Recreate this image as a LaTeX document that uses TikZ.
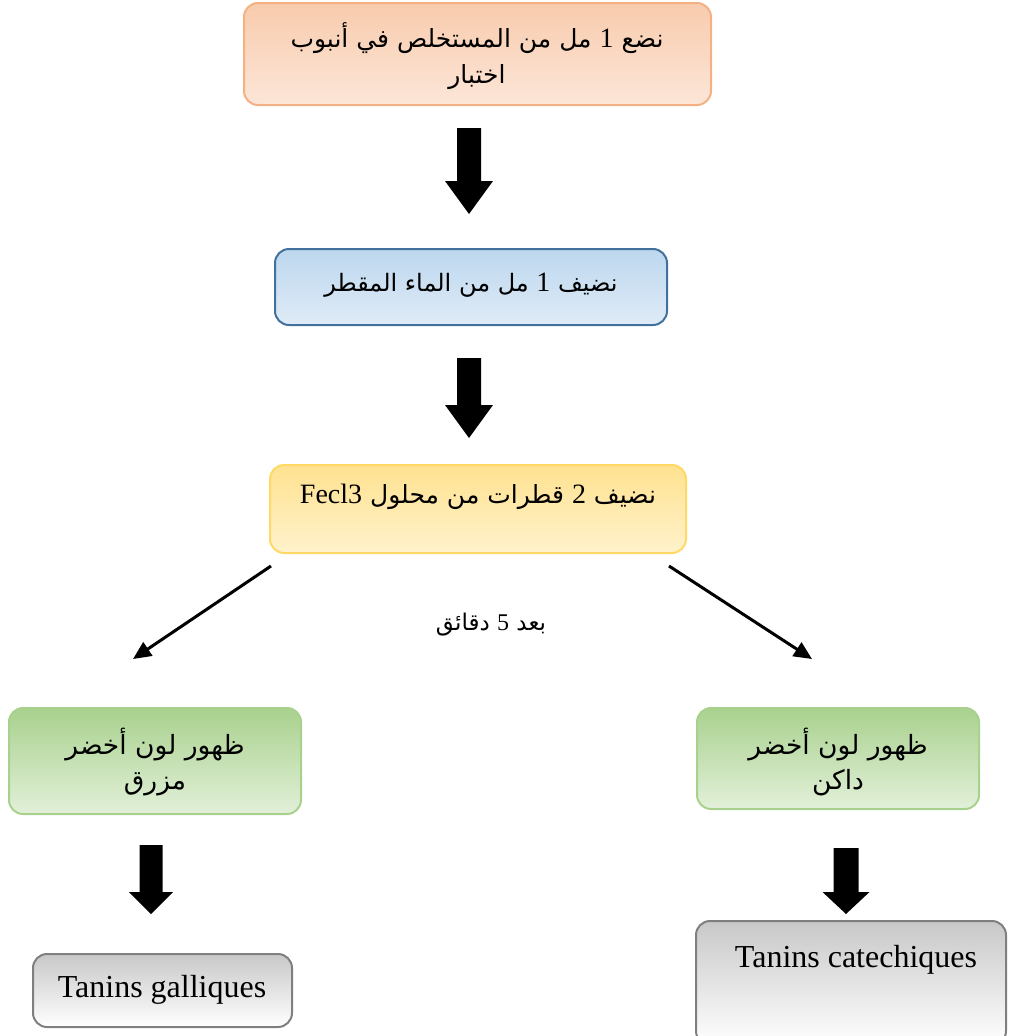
\documentclass[tikz,border=0pt]{standalone}
\usepackage{fontspec}
\setmainfont{Liberation Serif}
\newfontfamily\arabicfont[Script=Arabic]{DejaVu Sans}
\TeXXeTstate=1
\usetikzlibrary{arrows.meta}

\definecolor{orangeTop}{HTML}{F8CBAD}
\definecolor{orangeBot}{HTML}{FCE6D8}
\definecolor{orangeLine}{HTML}{F4B183}
\definecolor{blueTop}{HTML}{BDD7EE}
\definecolor{blueBot}{HTML}{DFEBF7}
\definecolor{blueLine}{HTML}{41719C}
\definecolor{yellowTop}{HTML}{FFE290}
\definecolor{yellowBot}{HTML}{FFF2CC}
\definecolor{yellowLine}{HTML}{FFD966}
\definecolor{greenTop}{HTML}{A9D18E}
\definecolor{greenBot}{HTML}{E2F0D9}
\definecolor{greenLine}{HTML}{A9D18E}
\definecolor{grayTop}{HTML}{C8C8C8}
\definecolor{grayBot}{HTML}{FFFFFF}
\definecolor{grayLine}{HTML}{7F7F7F}

% serif digits and Latin words inside the Arabic lines
\newcommand\latin[1]{{\rmfamily\fontsize{28}{30}\selectfont #1}}

% down-pointing block arrow: centre x, top y, head start y, tip y, shaft half width, head half width
\newcommand\blockdown[6]{%
  \fill[black] ({#1-#5},#2) -- ({#1+#5},#2) -- ({#1+#5},#3) -- ({#1+#6},#3)
    -- (#1,#4) -- ({#1-#6},#3) -- ({#1-#5},#3) -- cycle;}

\tikzset{
  box/.style={draw, rounded corners=14pt, line width=2pt, inner sep=0pt},
  orangebox/.style={box, draw=orangeLine, top color=orangeTop, bottom color=orangeBot},
  bluebox/.style={box, draw=blueLine, top color=blueTop, bottom color=blueBot},
  yellowbox/.style={box, draw=yellowLine, top color=yellowTop, bottom color=yellowBot},
  greenbox/.style={box, draw=greenLine, top color=greenTop, bottom color=greenBot},
  graybox/.style={box, draw=grayLine, top color=grayTop, bottom color=grayBot},
  artext/.style={align=center, inner sep=0pt, font=\arabicfont\fontsize{24}{36}\selectfont},
  latext/.style={inner sep=0pt, font=\fontsize{32}{36}\selectfont},
  thinarrow/.style={line width=3pt, -{Triangle[length=18pt,width=16pt]}},
}

\begin{document}
\begin{tikzpicture}[x=1pt,y=-1pt]
\useasboundingbox (0,0) rectangle (1009,1036);

% boxes
\node[orangebox, minimum width=467pt, minimum height=102pt] (b1) at (477.5,54) {};
\node[bluebox, minimum width=392pt, minimum height=76pt] (b2) at (471,287) {};
\node[yellowbox, minimum width=416pt, minimum height=88pt] (b3) at (478,509) {};
\node[greenbox, minimum width=292pt, minimum height=106pt] (g1) at (155,761) {};
\node[greenbox, minimum width=282pt, minimum height=101pt] (g2) at (838,758.5) {};
\node[graybox, minimum width=259pt, minimum height=73pt] (r1) at (162.5,990.5) {};
\node[graybox, minimum width=310pt, minimum height=124pt] (r2) at (851,983) {};

% texts
\node[artext, font=\arabicfont\fontsize{25}{36}\selectfont] (t1) at (477,56)
  {\beginR نضع \latin{1} مل من المستخلص في أنبوب\endR\\\beginR اختبار\endR};
\node[artext] (t2) at (471,285) {\beginR نضيف \latin{1} مل من الماء المقطر\endR};
\node[artext, font=\arabicfont\fontsize{25}{36}\selectfont] (t3) at (478,497)
  {\beginR نضيف \latin{2} قطرات من محلول \beginL\latin{Fecl3}\endL{}\endR};
\node[artext, font=\arabicfont\fontsize{26.5}{35}\selectfont] (t4) at (155,762)
  {\beginR ظهور لون أخضر\endR\\\beginR مزرق\endR};
\node[artext, font=\arabicfont\fontsize{26.5}{35}\selectfont] (t5) at (838,762)
  {\beginR ظهور لون أخضر\endR\\\beginR داكن\endR};
\node[artext, font=\arabicfont\fontsize{23}{28}\selectfont] (t6) at (491,625)
  {\beginR بعد {\rmfamily\fontsize{24}{28}\selectfont 5} دقائق\endR};
\node[latext] (t7) at (162,990) {Tanins galliques};
\node[latext] (t8) at (856,960) {Tanins catechiques};

% block arrows between the steps
\blockdown{469}{128}{181}{214}{12}{24}
\blockdown{469}{358}{405}{438}{12}{24}
\blockdown{151}{845}{892}{914}{11.5}{22}
\blockdown{846}{848}{892}{914}{12.5}{23.5}

% branching arrows after the reagent
\coordinate (la) at (271,566);
\coordinate (lb) at (133,659);
\coordinate (ra) at (669,566);
\coordinate (rb) at (812,659);
\draw[thinarrow] (la) -- (lb);
\draw[thinarrow] (ra) -- (rb);
\end{tikzpicture}
\end{document}
